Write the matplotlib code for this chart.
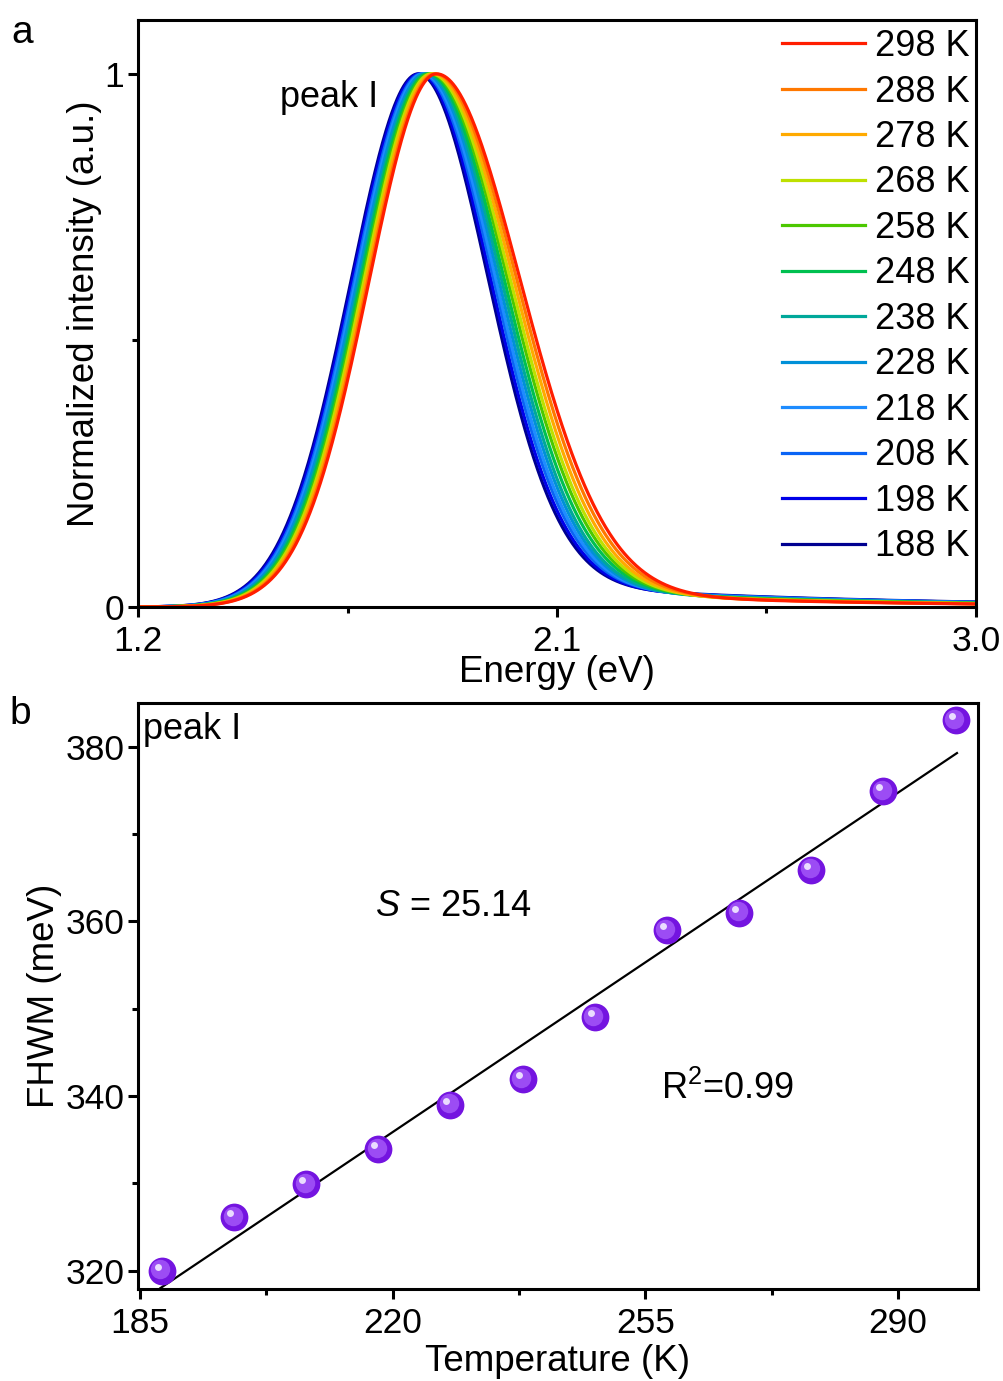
import numpy as np
import matplotlib
matplotlib.use("Agg")
import matplotlib.pyplot as plt
import matplotlib.transforms as mtransforms
from matplotlib.ticker import FixedLocator

plt.rcParams['font.family'] = ['Liberation Sans', 'DejaVu Sans']
plt.rcParams['mathtext.fontset'] = 'custom'
plt.rcParams['mathtext.rm'] = 'Liberation Sans'
plt.rcParams['mathtext.it'] = 'Liberation Sans:italic'

# panel a: normalized PL spectra, shape parameters
temps = [188, 198, 208, 218, 228, 238, 248, 258, 268, 278, 288, 298]
colors = ['#000090', '#0000E8', '#0A64F5', '#1E8CFF', '#0090D8', '#00A89A',
          '#00C050', '#4CC800', '#BEE000', '#FFAA00', '#FF7800', '#FF1E00']
peakE = [1.802, 1.805, 1.809, 1.812, 1.816, 1.820, 1.823, 1.827, 1.830, 1.834, 1.838, 1.841]
sigLow = [0.146, 0.146, 0.146, 0.146, 0.146, 0.146, 0.146, 0.146, 0.146, 0.146, 0.146, 0.146]
sigHigh = [0.151, 0.153, 0.155, 0.157, 0.159, 0.161, 0.164, 0.167, 0.170, 0.173, 0.176, 0.180]
tailAmp = [0.024, 0.023, 0.023, 0.022, 0.021, 0.020, 0.020, 0.019, 0.018, 0.017, 0.017, 0.016]
tailDecay = [0.63, 0.62, 0.62, 0.61, 0.60, 0.60, 0.59, 0.58, 0.58, 0.57, 0.57, 0.56]

# panel b: FWHM vs temperature
fwhm = [320.0, 326.1, 329.9, 333.9, 339.0, 341.9, 349.0, 359.0, 361.0, 365.9, 374.9, 383.0]

TICK_FS = 25.5
LABEL_FS = 26.5
TEXT_FS = 26

fig = plt.figure(figsize=(10.04, 13.81), dpi=100)
axA = fig.add_axes([0.1375, 0.5605, 0.8345, 0.425])
axB = fig.add_axes([0.1375, 0.0666, 0.8365, 0.4244])


def style_axis(ax):
    for sp in ax.spines.values():
        sp.set_linewidth(2.2)
    ax.tick_params(which='major', direction='out', length=7, width=2.2,
                   labelsize=TICK_FS, pad=3)
    ax.tick_params(which='minor', direction='out', length=4.5, width=2.2)
    ax.tick_params(axis='x', which='major', pad=6)
    ax.tick_params(top=False, right=False)


# ---- panel a ----
E = np.linspace(1.2, 3.0, 1200)
for i in range(len(temps)):
    d = E - peakE[i]
    sig = np.where(d < 0, sigLow[i], sigHigh[i])
    main = np.exp(-d ** 2 / (2 * sig ** 2))
    gate = 1.0 / (1.0 + np.exp(-(d - 0.25) / 0.06))
    tail = tailAmp[i] * np.exp(-(E - 2.4) / tailDecay[i]) * gate
    y = main + tail
    y = y / y.max()
    axA.plot(E, y, color=colors[i], lw=2.3, label=str(temps[i]) + " K")

axA.set_xlim(1.2, 3.0)
axA.set_ylim(0, 1.101)
axA.xaxis.set_major_locator(FixedLocator([1.2, 2.1, 3.0]))
axA.xaxis.set_minor_locator(FixedLocator([1.65, 2.55]))
axA.yaxis.set_major_locator(FixedLocator([0, 1]))
axA.yaxis.set_minor_locator(FixedLocator([0.5]))
axA.set_xticklabels(["1.2", "2.1", "3.0"])
axA.set_yticklabels(["0", "1"])
style_axis(axA)
axA.set_xlabel("Energy (eV)", fontsize=LABEL_FS, labelpad=-2)
axA.set_ylabel("Normalized intensity (a.u.)", fontsize=LABEL_FS, labelpad=2)
axA.text(1.505, 0.955, "peak I", fontsize=TEXT_FS, va='center', ha='left')

handles, labels = axA.get_legend_handles_labels()
axA.legend(handles[::-1], labels[::-1], loc='upper right', frameon=False,
           fontsize=TEXT_FS, handlelength=2.3, handletextpad=0.3,
           labelspacing=0.29, borderaxespad=0.0, borderpad=0.25,
           bbox_to_anchor=(1.004, 1.0))

# ---- panel b ----
axB.plot(temps, fwhm, 'o', ms=20, color='#7414E0', mec='none', zorder=3)
mid = mtransforms.offset_copy(axB.transData, fig=fig, x=-1.5, y=1.5, units='dots')
axB.plot(temps, fwhm, 'o', ms=14, color='#9C4CF4', mec='none', zorder=4, transform=mid)
hi = mtransforms.offset_copy(axB.transData, fig=fig, x=-4, y=4, units='dots')
axB.plot(temps, fwhm, 'o', ms=5, color='#EADCFF', mec='none', zorder=5, transform=hi)

coef = np.polyfit(temps, fwhm, 1)
tfit = np.linspace(187.8, 298.2, 50)
axB.plot(tfit, np.polyval(coef, tfit), color='black', lw=1.6, zorder=2)

axB.set_xlim(184.7, 301.1)
axB.set_ylim(317.9, 385.0)
axB.xaxis.set_major_locator(FixedLocator([185, 220, 255, 290]))
axB.xaxis.set_minor_locator(FixedLocator([202.5, 237.5, 272.5]))
axB.yaxis.set_major_locator(FixedLocator([320, 340, 360, 380]))
axB.yaxis.set_minor_locator(FixedLocator([330, 350, 370]))
style_axis(axB)
axB.set_xlabel("Temperature (K)", fontsize=LABEL_FS, labelpad=3)
axB.set_ylabel("FHWM (meV)", fontsize=LABEL_FS, labelpad=2)
axB.text(185.4, 382.0, "peak I", fontsize=TEXT_FS, va='center', ha='left')
axB.text(217.5, 361.7, r"$\mathit{S}$ = 25.14", fontsize=TEXT_FS, va='center', ha='left')
axB.text(257.2, 340.8, r"R$^{\mathregular{2}}$=0.99", fontsize=TEXT_FS, va='center', ha='left')

fig.text(0.011, 1 - 33 / 1381, "a", fontsize=28, va='center', ha='left')
fig.text(0.009, 1 - 714 / 1381, "b", fontsize=28, va='center', ha='left')

fig.savefig("out.png", dpi=100)
